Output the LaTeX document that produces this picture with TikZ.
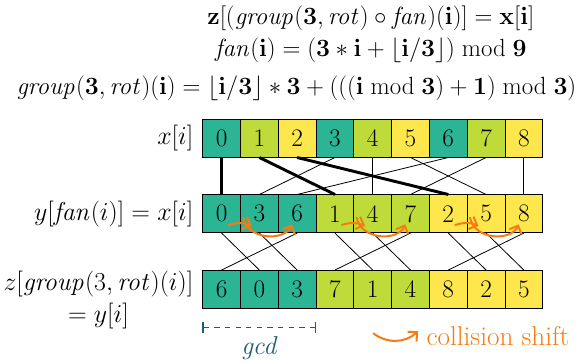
\documentclass[tikz,border=0pt]{standalone}
\usepackage{xcolor}
\usepackage{tikz}
\usepackage{amsmath}
\usepackage{amssymb}
\definecolor{grp0}{HTML}{2BB594}
\definecolor{grp1}{HTML}{BEDB39}
\definecolor{grp2}{HTML}{FDE74C}
\definecolor{shiftorange}{HTML}{F77B14}
\definecolor{gcdblue}{HTML}{1E5B74}
\usetikzlibrary{positioning, calc, arrows.meta}

\tikzset{
    eqfont/.style={font=\fontsize{17.28}{21}\selectfont, scale=1.082},
    lblfont/.style={font=\fontsize{17.28}{21}\selectfont, scale=1.128},
    cell/.style={draw, line width=0.6pt, minimum size=1cm, inner sep=0pt, font=\fontsize{19}{22}\selectfont},
    wire/.style={line width=0.6pt},
    mainwire/.style={line width=2.2pt},
    shiftarrow/.style={-{Straight Barb[length=5pt, width=10pt]}, draw=shiftorange, line width=1.5pt},
    gcdline/.style={{Bar[width=9pt]}-{Bar[width=9pt]}, draw=gcdblue, line width=1.4pt, dash pattern=on 4pt off 4pt}
}

\begin{document}
\begin{tikzpicture}
    \useasboundingbox (-5.365,-6.424) rectangle (10.013,3.158);

    % Formulas
    \node[eqfont] (eqcomp) at (4.45,2.68) {$\mathbf{z}[(\mathit{group}(\mathbf{3}, \mathit{rot}) \circ \mathit{fan})(\mathbf{i})] = \mathbf{x}[\mathbf{i}]$};
    \node[eqfont] (eqfan) at (4.45,1.83) {$\mathit{fan}(\mathbf{i}) = (\mathbf{3} \ast \mathbf{i} + \lfloor \mathbf{i}/\mathbf{3} \rfloor) \bmod \mathbf{9}$};
    \node[eqfont] (eqgroup) at (2.48,0.83) {$\mathit{group}(\mathbf{3}, \mathit{rot})(\mathbf{i}) = \lfloor \mathbf{i}/\mathbf{3} \rfloor \ast \mathbf{3} + (((\mathbf{i} \bmod \mathbf{3}) + \mathbf{1}) \bmod \mathbf{3})$};

    % Rows of cells
    \foreach \v [count=\i from 0] in {0,1,2,3,4,5,6,7,8} {
        \pgfmathtruncatemacro\g{mod(\v,3)}
        \node[cell, fill=grp\g] (x\i) at (\i+0.5,-0.5) {\v};
    }
    \foreach \v [count=\i from 0] in {0,3,6,1,4,7,2,5,8} {
        \pgfmathtruncatemacro\g{mod(\v,3)}
        \node[cell, fill=grp\g] (y\i) at (\i+0.5,-2.5) {\v};
    }
    \foreach \v [count=\i from 0] in {6,0,3,7,1,4,8,2,5} {
        \pgfmathtruncatemacro\g{mod(\v,3)}
        \node[cell, fill=grp\g] (z\i) at (\i+0.5,-4.5) {\v};
    }

    % Row labels
    \node[lblfont, left=0.1cm of x0] (xlbl) {$x[i]$};
    \node[lblfont, left=0.1cm of y0] (ylbl) {$y[\mathit{fan}(i)] = x[i]$};
    \node[lblfont, left=0.1cm of z0, yshift=-0.25cm, align=center] (zlbl) {$z[\mathit{group}(3, \mathit{rot})(i)]$\\$= y[i]$};

    % fan: x -> y
    \foreach \v in {0,...,8} {
        \pgfmathtruncatemacro\f{mod(3*\v,9)+int(\v/3)}
        \ifnum\v<3
            \draw[mainwire] (x\v.south) -- (y\f.north);
        \else
            \draw[wire] (x\v.south) -- (y\f.north);
        \fi
    }

    % group(3, rot): y -> z
    \foreach \i in {0,...,8} {
        \pgfmathtruncatemacro\r{int(\i/3)*3+mod(mod(\i,3)+1,3)}
        \draw[wire] (y\i.south) -- (z\r.north);
    }

    % Collision shifts
    \foreach \a in {0,3,6} {
        \draw[shiftarrow] ($(y\a.center)+(0.17,-0.30)$) to[bend left=20] ($(y\a.center)+(0.80,-0.32)$);
        \draw[shiftarrow] ($(y\a.center)+(0.57,-0.09)$) .. controls ($(y\a.center)+(0.70,-0.72)$) and ($(y\a.center)+(1.68,-0.72)$) .. ($(y\a.center)+(1.86,-0.28)$);
    }

    % gcd bracket
    \coordinate (gcdl) at ($(z0.south west)+(0,-0.5)$);
    \coordinate (gcdr) at ($(z2.south east)+(0,-0.5)$);
    \draw[gcdline] (gcdl) -- node[below=2pt, lblfont, text=gcdblue] (gcdlbl) {\textit{gcd}} (gcdr);

    % Legend
    \coordinate (legtail) at (4.51,-5.66);
    \node[font=\fontsize{20.5}{24}\selectfont, anchor=west, text=shiftorange] (shiftlbl) at (5.80,-5.73) {collision shift};
    \draw[shiftarrow] (legtail) to[bend right=40] ($(shiftlbl.west)+(-0.1,0.12)$);
\end{tikzpicture}
\end{document}
